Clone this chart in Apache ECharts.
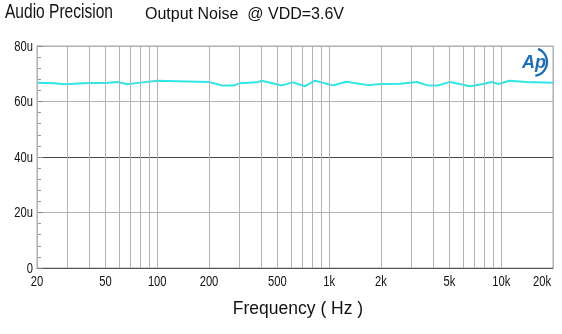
<!DOCTYPE html>
<html>
<head>
<meta charset="utf-8">
<script src="https://cdn.jsdelivr.net/npm/echarts@6/dist/echarts.min.js"></script>
<style>
  html, body { margin: 0; padding: 0; background: #fff; }
  #chart { width: 562px; height: 334px; }
</style>
</head>
<body>
<div id="chart"></div>
<script>
// Output noise (V rms) versus frequency
const freqHz = [20, 25, 29, 35, 40, 50, 59, 67, 80, 100, 150, 200, 237, 280, 303, 380, 405, 530, 614, 723, 827,
  1050, 1262, 1680, 2000, 2600, 3230, 3700, 4300, 5030, 6580, 8000, 8800, 9640, 11150, 14000, 20000];
const noiseMicroV = [66.8, 66.6, 66.2, 66.5, 66.7, 66.7, 67.0, 66.2, 66.8, 67.5, 67.2, 67.0, 65.8, 65.8, 66.6, 66.9, 67.5, 65.8, 66.9, 65.5, 67.5,
  65.8, 67.1, 65.9, 66.3, 66.4, 67.0, 65.9, 65.8, 67.0, 65.5, 66.4, 67.0, 66.3, 67.5, 67.0, 66.8];

// vertical grid positions and the labelled subset
const gridFreqs = [20, 30, 40, 50, 60, 70, 80, 90, 100, 200, 300, 400, 500, 600, 700, 800, 900,
  1000, 2000, 3000, 4000, 5000, 6000, 7000, 8000, 9000, 10000, 20000];
const tickFreqs = [20, 50, 100, 200, 500, 1000, 2000, 5000, 10000, 20000];
const tickLabels = ['20', '50', '100', '200', '500', '1k', '2k', '5k', '10k', '20k'];

const yTicks = [0, 20, 40, 60, 80];
const yTickLabels = ['0', '20u', '40u', '60u', '80u'];

const sans = "'Liberation Sans', Arial, sans-serif";
const condensed = 0.8; // horizontal squeeze of the axis lettering

const chart = echarts.init(document.getElementById('chart'), null, { renderer: 'canvas' });
chart.setOption({
  animation: false,
  backgroundColor: '#fff',
  grid: { left: 37, right: 9, top: 46, bottom: 66, show: true, borderColor: '#a8a8a8', borderWidth: 1 },
  xAxis: {
    type: 'log', logBase: 10, min: 20, max: 20000,
    axisLine: { show: true, lineStyle: { color: '#555', width: 1 } },
    axisTick: { show: false }, axisLabel: { show: false }, splitLine: { show: false },
    minorTick: { show: false }, minorSplitLine: { show: false }
  },
  yAxis: {
    type: 'value', min: yTicks[0], max: yTicks[yTicks.length - 1], interval: 20,
    axisLine: { show: true, lineStyle: { color: '#555', width: 1 } },
    axisTick: { show: true, inside: true, length: 6, lineStyle: { color: '#888' } },
    minorTick: { show: true, splitNumber: 5, length: 4, lineStyle: { color: '#999' } },
    axisLabel: { show: false },
    splitLine: { show: true, lineStyle: { color: ['#b4b4b4', '#b4b4b4', '#444', '#b4b4b4', '#b4b4b4'], width: 1 } }
  },
  graphic: [
    { type: 'text', x: 5, y: 12.5, scaleX: 0.74, style: { text: 'Audio Precision', font: '21px ' + sans, fill: '#111', textVerticalAlign: 'middle' } },
    { type: 'text', x: 145, y: 15, style: { text: 'Output Noise  @ VDD=3.6V', font: '16px ' + sans, fill: '#111', textVerticalAlign: 'middle' } },
    { type: 'text', x: 298, y: 309, style: { text: 'Frequency ( Hz )', font: '17.5px ' + sans, fill: '#111', textAlign: 'center', textVerticalAlign: 'middle' } },
    { type: 'arc', shape: { cx: 533, cy: 62, r: 14, startAngle: -1.2, endAngle: 1.4 }, style: { stroke: '#1e6fb8', lineWidth: 2.4, fill: null } },
    { type: 'text', x: 534, y: 63, style: { text: 'Ap', font: 'italic bold 18px ' + sans, fill: '#1e6fb8', textAlign: 'center', textVerticalAlign: 'middle' } }
  ],
  series: [
    {
      type: 'line', name: 'grid', data: [], silent: true, z: 1,
      markLine: {
        silent: true, symbol: ['none', 'none'], animation: false,
        label: { show: false },
        lineStyle: { type: 'solid', color: '#b4b4b4', width: 1 },
        data: gridFreqs.map(f => ({ xAxis: f }))
      }
    },
    {
      // frequency tick labels under the axis
      type: 'custom', name: 'xLabels', silent: true, clip: false, z: 4,
      data: tickFreqs.map((f, i) => [f, 0, i]),
      renderItem: (params, api) => {
        const i = api.value(2);
        const p = api.coord([api.value(0), api.value(1)]);
        const last = i === tickLabels.length - 1;
        return {
          type: 'text', x: last ? p[0] - 2 : p[0], y: p[1] + 14, scaleX: condensed,
          style: { text: tickLabels[i], font: '14px ' + sans, fill: '#111', textAlign: last ? 'right' : 'center', textVerticalAlign: 'middle' }
        };
      }
    },
    {
      // level tick labels left of the axis
      type: 'custom', name: 'yLabels', silent: true, clip: false, z: 4,
      data: yTicks.map((v, i) => [freqHz[0], v, i]),
      renderItem: (params, api) => {
        const i = api.value(2);
        const p = api.coord([api.value(0), api.value(1)]);
        return {
          type: 'text', x: p[0] - 4, y: p[1] + 1, scaleX: condensed,
          style: { text: yTickLabels[i], font: '14px ' + sans, fill: '#111', textAlign: 'right', textVerticalAlign: 'middle' }
        };
      }
    },
    {
      type: 'line', name: 'Noise', z: 3,
      data: freqHz.map((f, i) => [f, noiseMicroV[i]]),
      showSymbol: false, smooth: false,
      lineStyle: { color: '#2ee6e6', width: 2 }
    }
  ]
});
</script>
</body>
</html>
